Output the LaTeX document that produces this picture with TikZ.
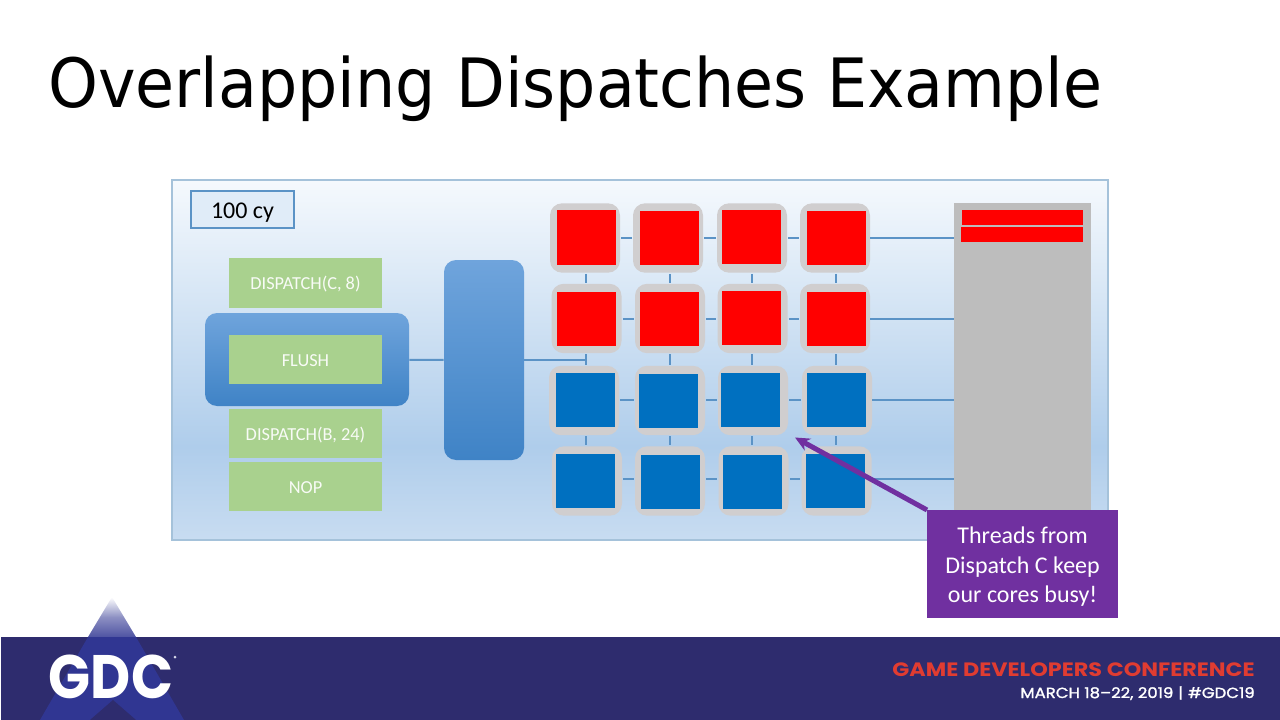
\documentclass[tikz,border=0pt]{standalone}
\usepackage{fontspec}
\usepackage{amsmath}
\setmainfont{Carlito}
\newfontfamily\titlefont[FakeStretch=0.933]{DejaVu Sans}
\newfontfamily\gdcfont[FakeStretch=0.9]{Poppins}
\newfontfamily\conffont[FakeStretch=1.153]{Poppins}
\newfontfamily\datefont[FakeStretch=1.125,FakeBold=1.5]{Poppins}
\usetikzlibrary{arrows.meta}
\definecolor{panelTop}{HTML}{F5F9FD}
\definecolor{panelMid}{HTML}{AFCDEB}
\definecolor{panelLow}{HTML}{C8DCF1}
\definecolor{panelEdge}{HTML}{A5C2DA}
\definecolor{linkBlue}{HTML}{5B93C6}
\definecolor{coreGray}{HTML}{D0CECF}
\definecolor{coreBlue}{HTML}{0070C0}
\definecolor{queueGreen}{HTML}{A9D18E}
\definecolor{noteViolet}{HTML}{7030A0}
\definecolor{bandNavy}{HTML}{2E2C6E}
\definecolor{logoBlue}{HTML}{303692}
\definecolor{confRed}{HTML}{E03C31}
\definecolor{unitTop}{HTML}{6FA4DC}
\definecolor{unitLow}{HTML}{3F83C6}
\pgfdeclareverticalshading{panelfade}{100bp}{
    color(0bp)=(panelLow); color(25bp)=(panelLow); color(38bp)=(panelMid);
    color(75bp)=(panelTop); color(100bp)=(panelTop)}
\tikzset{
    queue/.style={fill=queueGreen,text=white!92!queueGreen,minimum width=114.75pt,minimum height=37pt,inner sep=0pt,text height=12pt,text depth=1.8pt,font=\fontsize{13.75}{16}\selectfont},
    unit/.style={rounded corners=9pt,top color=unitTop,bottom color=unitLow,inner sep=0pt},
    link/.style={draw=linkBlue,line width=1.5pt},
    gaplink/.style={link,shorten >=0.75pt,shorten <=0.75pt},
    coreback/.style={fill=coreGray,rounded corners=9pt,minimum width=52.5pt,minimum height=52pt,inner sep=0pt},
    coreface/.style={minimum width=44.25pt,minimum height=40.5pt,inner sep=0pt},
}
% one core: name, centre of the gray back, centre of the face, colour
\newcommand{\core}[6]{
    \node[coreback] (#1) at (#2,#3) {};
    \node[coreface,fill=#6] (#1f) at (#4,#5) {};
}
\begin{document}
\begin{tikzpicture}[x=0.75pt,y=-0.75pt]
    \useasboundingbox (0,0) rectangle (1280,720);
    \node[anchor=base west,inner sep=0pt,font=\titlefont\fontsize{51}{60}\selectfont] (title) at (48,108) {Overlapping Dispatches Example};

    \node[draw=panelEdge,line width=1.5pt,shading=panelfade,anchor=north west,minimum width=702pt,minimum height=269.5pt,inner sep=0pt,outer sep=0pt] (panel) at (172,180.5) {};
    \node[draw=linkBlue,line width=1.5pt,fill=panelTop!70!panelMid,minimum width=77pt,minimum height=27.5pt,inner sep=0pt,text height=17.5pt,text depth=3.5pt,font=\fontsize{18}{20}\selectfont] (cycles) at (242.5,209.5) {100 cy};

    \node[unit,minimum width=153pt,minimum height=69.75pt] (flushback) at (307,359.5) {};
    \node[unit,minimum width=60pt,minimum height=150pt] (sched) at (484,360) {};
    \node[queue] (dispc) at (305.5,283) {DISPATCH(C, 8)};
    \node[queue] (flush) at (305.5,359.5) {FLUSH};
    \node[queue] (dispb) at (305.5,433.5) {DISPATCH(B, 24)};
    \node[queue] (nop) at (305.5,486.5) {NOP};

    \core{aa}{585}{238}{586.5}{237.5}{red};
    \core{ab}{668}{238}{669.5}{238}{red};
    \core{ac}{752}{238}{751.5}{237}{red};
    \core{ad}{835}{238}{836}{238}{red};
    \core{ba}{586.5}{318.5}{586.5}{319}{red};
    \core{bb}{670}{318.5}{669.5}{319}{red};
    \core{bc}{752.5}{318.5}{751.5}{318}{red};
    \core{bd}{835}{318.5}{836}{319}{red};
    \core{ca}{584}{400.5}{585.5}{400}{coreBlue};
    \core{cb}{670}{400.5}{668.5}{401}{coreBlue};
    \core{cc}{753}{400.5}{750.5}{400}{coreBlue};
    \core{cd}{837}{400.5}{836}{400}{coreBlue};
    \core{da}{587}{481}{585.5}{481}{coreBlue};
    \core{db}{670}{481}{670.5}{481.5}{coreBlue};
    \core{dc}{753.5}{481}{752.5}{481.5}{coreBlue};
    \core{dd}{836.5}{481}{835.5}{481}{coreBlue};

    \node[fill=black!26,anchor=north west,minimum width=102.75pt,minimum height=232pt,inner sep=0pt] (cache) at (954,203) {};
    \node[fill=red,minimum width=90.75pt,minimum height=11.25pt,inner sep=0pt] (linea) at (1022.5,217.5) {};
    \node[fill=red,minimum width=91.5pt,minimum height=11.5pt,inner sep=0pt] (lineb) at (1022,234.5) {};

    % links
    \draw[link] (flushback) -- (sched);
    \coordinate (entry) at (586,360);
    \draw[link] (sched.east |- entry) -- (entry);
    \foreach \r/\ry in {a/238,b/319,c/400,d/479}{
        \coordinate (rail\r) at (0,\ry);
        \draw[gaplink] (\r a.east |- rail\r) -- (\r b.west |- rail\r);
        \draw[gaplink] (\r b.east |- rail\r) -- (\r c.west |- rail\r);
        \draw[gaplink] (\r c.east |- rail\r) -- (\r d.west |- rail\r);
        \draw[link] (\r d.east |- rail\r) -- (cache.west |- rail\r);
    }
    \foreach \c/\cx in {a/586,b/670,c/752,d/836}{
        \coordinate (post\c) at (\cx,0);
        \draw[gaplink] (a\c.south -| post\c) -- (b\c.north -| post\c);
        \draw[gaplink] (b\c.south -| post\c) -- (c\c.north -| post\c);
        \draw[gaplink] (c\c.south -| post\c) -- (d\c.north -| post\c);
    }

    \node[fill=noteViolet,text=white,anchor=north west,minimum width=143pt,minimum height=81pt,inner sep=0pt,align=center,font=\fontsize{18}{21.8}\selectfont] (note) at (927,510) {\rule{0pt}{16pt}Threads from\\Dispatch C keep\\our cores busy!};
    \coordinate (notetip) at (795,437.5);
    \draw[draw=noteViolet,line width=3.75pt,-{Stealth[length=11pt,width=10pt]}] (note.north west) -- (notetip);

    % footer
    \fill[bandNavy] (1,637) rectangle (1280,720);
    \shade[top color=white,bottom color=logoBlue!85!white,middle color=logoBlue!55!white] (112,597) -- (136,637) -- (88,637) -- cycle;
    \fill[logoBlue] (88,637) -- (136,637) -- (184,720) -- (40,720) -- cycle;
    \fill[bandNavy] (113,700) -- (136,720) -- (90,720) -- cycle;
    \node[text=white,inner sep=0pt,font=\gdcfont\bfseries\fontsize{46}{50}\selectfont] (gdc) at (111,677) {GDC};
    \fill[white!80!logoBlue] (175,657) circle (1.5);
    \node[text=confRed,anchor=base east,inner sep=0pt,font=\conffont\bfseries\fontsize{14.5}{16}\selectfont] (conf) at (1255,676) {GAME DEVELOPERS CONFERENCE};
    \node[text=white,anchor=base east,inner sep=0pt,font=\datefont\fontsize{11}{13}\selectfont] (dates) at (1255,698) {MARCH 18–22, 2019\,\,|\,\,\#GDC19};
\end{tikzpicture}
\end{document}
